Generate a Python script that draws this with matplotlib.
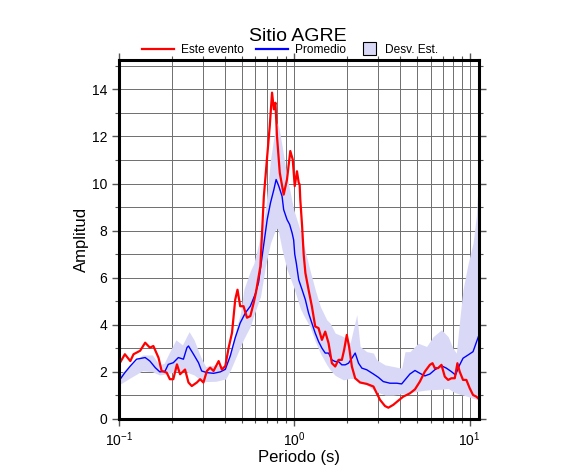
import matplotlib
matplotlib.use("Agg")
import matplotlib.pyplot as plt
from matplotlib.lines import Line2D
from matplotlib.patches import Rectangle
from matplotlib.ticker import LogLocator, MultipleLocator, NullFormatter, FixedLocator

plt.rcParams['font.family'] = ['Liberation Sans', 'DejaVu Sans']
plt.rcParams['mathtext.fontset'] = 'custom'
plt.rcParams['mathtext.rm'] = 'Liberation Sans'
plt.rcParams['mathtext.it'] = 'Liberation Sans:italic'

title = "Sitio AGRE"
xlabel = "Periodo (s)"
ylabel = "Amplitud"
legend_labels = ["Este evento", "Promedio", "Desv. Est."]

# Este evento (red)
event_T = [0.100, 0.108, 0.116, 0.121, 0.132, 0.141, 0.150, 0.157, 0.168, 0.175,
           0.187, 0.195, 0.204, 0.214, 0.223, 0.238, 0.249, 0.260, 0.278, 0.290,
           0.303, 0.317, 0.331, 0.346, 0.370, 0.386, 0.404, 0.422, 0.441, 0.460,
           0.474, 0.491, 0.513, 0.537, 0.561, 0.586, 0.603, 0.640, 0.670, 0.700,
           0.724, 0.746, 0.764, 0.780, 0.796, 0.826, 0.869, 0.908, 0.948, 0.979,
           1.005, 1.035, 1.059, 1.072, 1.081, 1.107, 1.130, 1.156, 1.205, 1.259,
           1.315, 1.374, 1.436, 1.500, 1.567, 1.637, 1.710, 1.786, 1.866, 1.923,
           1.991, 2.051, 2.128, 2.223, 2.371, 2.588, 2.825, 2.951, 3.083, 3.289,
           3.436, 3.664, 3.917, 4.178, 4.560, 4.875, 5.200, 5.546, 5.929, 6.138,
           6.324, 6.607, 6.902, 7.211, 7.534, 7.870, 8.222, 8.511, 8.770, 9.162,
           9.572, 10.00, 10.45, 10.91, 11.30]
event_A = [2.32, 2.75, 2.46, 2.75, 2.90, 3.24, 3.03, 3.10, 2.60, 2.04,
           1.97, 1.69, 1.69, 2.32, 1.90, 2.10, 1.55, 1.40, 1.55, 1.69,
           1.55, 2.04, 2.18, 2.04, 2.46, 2.10, 2.25, 3.03, 3.66, 5.07,
           5.49, 4.79, 4.79, 4.30, 4.37, 4.93, 5.35, 6.48, 9.46, 11.16,
           12.44, 13.86, 13.15, 13.43, 12.01, 10.45, 9.53, 10.17, 11.38, 11.02,
           9.89, 10.52, 10.03, 9.96, 9.32, 8.20, 7.00, 6.20, 5.49, 4.78,
           3.93, 3.86, 3.36, 3.71, 3.22, 2.37, 2.23, 2.51, 2.51, 2.94,
           3.57, 3.08, 2.23, 1.73, 1.55, 1.49, 1.38, 1.09, 0.81, 0.55,
           0.48, 0.60, 0.78, 0.95, 1.09, 1.26, 1.59, 2.01, 2.30, 2.37,
           2.16, 2.16, 2.30, 1.80, 1.66, 1.73, 1.73, 2.37, 2.01, 1.66,
           1.66, 1.31, 1.02, 0.95, 0.85]

# Promedio (blue)
mean_T = [0.100, 0.108, 0.116, 0.126, 0.141, 0.150, 0.161, 0.171, 0.183, 0.191,
          0.204, 0.218, 0.233, 0.244, 0.249, 0.266, 0.284, 0.296, 0.317, 0.346,
          0.378, 0.404, 0.431, 0.460, 0.491, 0.525, 0.561, 0.598, 0.625, 0.655,
          0.700, 0.731, 0.764, 0.787, 0.815, 0.851, 0.869, 0.908, 0.940, 0.971,
          0.991, 1.005, 1.026, 1.059, 1.107, 1.156, 1.205, 1.259, 1.315, 1.374,
          1.436, 1.500, 1.567, 1.637, 1.710, 1.786, 1.866, 1.950, 2.037, 2.128,
          2.223, 2.323, 2.427, 2.588, 2.825, 3.013, 3.214, 3.508, 3.837, 4.093,
          4.276, 4.560, 4.875, 5.200, 5.546, 5.929, 6.324, 6.902, 7.362, 7.870,
          8.299, 8.770, 9.162, 9.795, 10.45, 11.30]
mean_A = [1.62, 1.97, 2.25, 2.54, 2.61, 2.46, 2.18, 2.00, 2.03, 2.32,
          2.39, 2.61, 2.54, 3.03, 3.10, 2.75, 2.39, 2.04, 1.97, 1.94,
          2.00, 2.11, 2.68, 3.45, 4.08, 4.50, 4.79, 5.30, 5.80, 6.91,
          8.47, 9.18, 9.74, 10.17, 9.89, 9.46, 8.89, 8.47, 8.26, 7.90,
          7.60, 7.00, 6.62, 5.91, 5.49, 5.06, 4.50, 4.07, 3.65, 3.29,
          3.01, 2.80, 2.80, 2.51, 2.44, 2.44, 2.30, 2.30, 2.37, 2.58,
          2.80, 2.37, 2.16, 2.09, 1.91, 1.77, 1.59, 1.52, 1.52, 1.49,
          1.66, 1.91, 2.06, 1.94, 1.83, 1.91, 2.09, 2.26, 2.16, 2.01,
          1.87, 2.30, 2.58, 2.72, 2.86, 3.57]

# Desv. Est. band (lower / upper)
band_T = [0.100, 0.115, 0.136, 0.155, 0.170, 0.181, 0.193, 0.211, 0.230, 0.251,
          0.268, 0.292, 0.312, 0.356, 0.406, 0.433, 0.493, 0.515, 0.562, 0.587,
          0.641, 0.670, 0.684, 0.731, 0.780, 0.798, 0.815, 0.851, 0.908, 0.991,
          1.081, 1.130, 1.230, 1.315, 1.406, 1.531, 1.600, 1.710, 1.905, 2.080,
          2.270, 2.371, 2.588, 2.825, 2.951, 3.289, 3.664, 4.093, 4.276, 4.560,
          5.082, 5.675, 6.194, 6.902, 7.534, 8.035, 8.395, 8.770, 9.162, 9.795,
          10.45, 10.91, 11.30]
band_lo = [1.45, 1.73, 2.05, 2.01, 1.87, 1.90, 1.94, 2.01, 2.09, 1.95,
           1.87, 1.65, 1.59, 1.60, 1.70, 2.09, 3.08, 3.40, 3.95, 4.40,
           5.20, 6.06, 6.50, 7.47, 8.04, 8.10, 7.90, 7.19, 6.34, 5.60,
           4.70, 4.40, 3.90, 3.30, 2.80, 2.30, 2.09, 1.85, 1.66, 1.73,
           1.70, 1.60, 1.45, 1.23, 1.15, 1.02, 1.02, 1.07, 1.09, 1.12,
           1.18, 1.23, 1.25, 1.26, 1.30, 1.16, 1.10, 1.05, 1.02, 0.95,
           0.88, 0.84, 0.81]
band_hi = [1.87, 2.23, 2.72, 2.72, 2.30, 2.37, 2.80, 3.36, 3.15, 3.71,
           3.36, 2.65, 2.23, 2.30, 2.23, 2.94, 4.50, 5.50, 6.30, 6.60,
           7.76, 8.50, 8.89, 11.02, 12.40, 12.58, 12.40, 11.60, 10.31, 8.90,
           8.00, 7.40, 6.30, 5.50, 4.78, 4.21, 4.07, 3.65, 3.50, 3.22,
           4.43, 3.08, 2.86, 2.80, 2.51, 2.30, 2.23, 2.16, 2.86, 2.86,
           3.22, 3.08, 3.50, 3.79, 3.50, 3.00, 2.80, 4.21, 5.50, 6.60,
           7.47, 8.61, 10.60]

red = "#ff0000"
blue = "#0000ff"
band_color = "#d9d9f7"
grid_color = "#6e6e6e"

W, H = 586, 475
fig = plt.figure(figsize=(W / 100, H / 100), dpi=100)
ax = fig.add_axes([0.2031, 0.1179, 0.6143, 0.7558])

ax.set_xscale('log')
ax.set_xlim(0.1, 11.3)
ax.set_ylim(0, 1.1 * max(event_A))

ax.fill_between(band_T, band_lo, band_hi, color=band_color, lw=0, zorder=1)
ax.plot(mean_T, mean_A, color=blue, lw=1.0, zorder=3)
ax.plot(event_T, event_A, color=red, lw=1.6, zorder=4)

# ticks & grid
ax.xaxis.set_major_locator(FixedLocator([0.1, 1, 10]))
ax.xaxis.set_minor_locator(LogLocator(base=10, subs=range(2, 10), numticks=20))
ax.xaxis.set_minor_formatter(NullFormatter())
ax.set_xticklabels([r"$10^{-1}$", r"$10^{0}$", r"$10^{1}$"])
ax.yaxis.set_major_locator(MultipleLocator(2))
ax.yaxis.set_minor_locator(MultipleLocator(1))

ax.grid(True, which='both', color=grid_color, lw=0.7, zorder=0)
ax.set_axisbelow(True)

ax.tick_params(which='major', direction='out', length=5, width=1.0, labelsize=10,
               top=True, right=True, bottom=True, left=True, color='#555555')
ax.tick_params(which='minor', direction='out', length=3, width=0.8,
               top=True, right=True, bottom=True, left=True, color='#555555')
ax.tick_params(axis='x', which='major', pad=3)

for s in ax.spines.values():
    s.set_linewidth(2.2)
    s.set_color('black')
    s.set_zorder(5)

ax.set_xlabel(xlabel, fontsize=12, labelpad=1)
ax.set_ylabel(ylabel, fontsize=12, labelpad=2)

fig.text(298 / W, 1 - 41 / H, title, ha='center', va='baseline', fontsize=14)

# legend, placed by hand above the axes
ly = 1 - 48.5 / H
tb = 1 - 53 / H
fs = 8.6
fig.add_artist(Line2D([142 / W, 174 / W], [ly, ly], color=red, lw=1.6, transform=fig.transFigure))
fig.text(181 / W, tb, legend_labels[0], ha='left', va='baseline', fontsize=fs)
fig.add_artist(Line2D([256 / W, 288 / W], [ly, ly], color=blue, lw=1.6, transform=fig.transFigure))
fig.text(295 / W, tb, legend_labels[1], ha='left', va='baseline', fontsize=fs)
fig.add_artist(Rectangle((363 / W, 1 - 55 / H), 13 / W, 13 / H, facecolor=band_color,
                         edgecolor='black', lw=0.8, transform=fig.transFigure))
fig.text(385 / W, tb, legend_labels[2], ha='left', va='baseline', fontsize=fs)

fig.savefig("out.png", dpi=100)
